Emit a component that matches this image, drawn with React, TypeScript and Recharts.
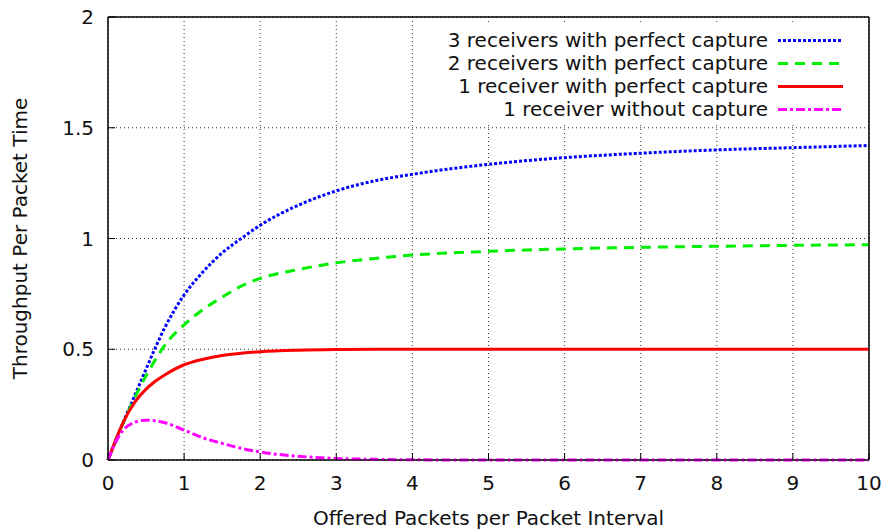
import React from 'react';
import { LineChart, Line, XAxis, YAxis, CartesianGrid, Legend, ReferenceArea } from 'recharts';

const xs = [0, 0.1, 0.2, 0.35, 0.5, 0.6, 0.75, 1, 1.25, 1.5, 1.75, 2, 2.5, 3, 3.5, 4, 5, 6, 7, 8, 9, 10];
const threeRx = [0, 0.085, 0.17, 0.29, 0.41, 0.49, 0.6, 0.745, 0.85, 0.935, 1.0, 1.06, 1.15, 1.215, 1.26, 1.29, 1.335, 1.365, 1.385, 1.4, 1.41, 1.42];
const twoRx = [0, 0.085, 0.167, 0.28, 0.38, 0.44, 0.52, 0.61, 0.68, 0.735, 0.785, 0.82, 0.86, 0.89, 0.91, 0.925, 0.942, 0.953, 0.96, 0.965, 0.969, 0.972];
const oneRx = [0, 0.09, 0.17, 0.26, 0.32, 0.35, 0.385, 0.43, 0.455, 0.472, 0.482, 0.489, 0.496, 0.499, 0.5, 0.5, 0.5, 0.5, 0.5, 0.5, 0.5, 0.5];
const noCapture = [0, 0.08, 0.135, 0.17, 0.18, 0.178, 0.168, 0.135, 0.1, 0.075, 0.053, 0.036, 0.017, 0.007, 0.003, 0.001, 0, 0, 0, 0, 0, 0];

const xTicks = [0, 1, 2, 3, 4, 5, 6, 7, 8, 9, 10];
const yTicks = [0, 0.5, 1, 1.5, 2];

const seriesNames = [
  '3 receivers with perfect capture',
  '2 receivers with perfect capture',
  '1 receiver with perfect capture',
  '1 receiver without capture',
];

const data = xs.map((x, i) => ({
  x,
  s3: threeRx[i],
  s2: twoRx[i],
  s1: oneRx[i],
  s0: noCapture[i],
}));

const FONT = "'DejaVu Sans', sans-serif";
const TEXT = '#111';

const styles = [
  { key: 's3', color: '#0000ff', dash: '3 2' },
  { key: 's2', color: '#00ee00', dash: '10 7' },
  { key: 's1', color: '#ff0000', dash: undefined as string | undefined },
  { key: 's0', color: '#ff00ff', dash: '9 3 3 3' },
];

const renderLegend = () => (
  <div style={{ paddingTop: 3.5, background: '#fff', width: '100%', height: '100%', boxSizing: 'border-box' }}>
    {seriesNames.map((name, i) => (
      <div key={name} style={{ display: 'flex', alignItems: 'center', height: 23 }}>
        <span
          style={{
            width: 328,
            textAlign: 'right',
            fontFamily: FONT,
            fontSize: 20,
            lineHeight: '23px',
            color: TEXT,
            whiteSpace: 'nowrap',
          }}
        >
          {name}
        </span>
        <svg width={75} height={23} style={{ marginLeft: 10 }}>
          <line
            x1={0}
            x2={65}
            y1={11.5}
            y2={11.5}
            stroke={styles[i].color}
            strokeWidth={3}
            strokeDasharray={styles[i].dash}
          />
        </svg>
      </div>
    ))}
  </div>
);

export default function App() {
  const tickStyle = { fill: TEXT, fontSize: 20, fontFamily: FONT };
  return (
    <div style={{ position: 'absolute', left: 0, top: 0 }}>
      <LineChart width={885} height={530} data={data} margin={{ top: 17, right: 16, left: 0, bottom: 0 }}>
        <CartesianGrid xAxisId="main" yAxisId="main" stroke="#333" strokeDasharray="1 3" />
        <XAxis
          xAxisId="main"
          dataKey="x"
          type="number"
          domain={[0, 10]}
          ticks={xTicks}
          tickLine={{ stroke: '#000' }}
          tickSize={-7}
          tickMargin={23}
          height={70}
          axisLine={{ stroke: '#000' }}
          tick={tickStyle}
          label={{ value: 'Offered Packets per Packet Interval', position: 'insideBottom', offset: 5, style: { fill: TEXT, fontSize: 20, fontFamily: FONT } }}
        />
        <XAxis xAxisId="inT" dataKey="x" type="number" orientation="top" domain={[0, 10]} ticks={xTicks} mirror tick={false} tickSize={7} height={1} axisLine={{ stroke: '#000' }} tickLine={{ stroke: '#000' }} />
        <YAxis
          yAxisId="main"
          type="number"
          domain={[0, 2]}
          ticks={yTicks}
          tickLine={{ stroke: '#000' }}
          tickSize={-7}
          tickMargin={21}
          width={108}
          axisLine={{ stroke: '#000' }}
          tick={tickStyle}
          label={{ value: 'Throughput Per Packet Time', angle: -90, position: 'insideLeft', offset: 20, style: { fill: TEXT, fontSize: 20, fontFamily: FONT, textAnchor: 'middle' } }}
        />
        <YAxis yAxisId="inR" type="number" orientation="right" domain={[0, 2]} ticks={yTicks} mirror tick={false} tickSize={7} width={1} axisLine={{ stroke: '#000' }} tickLine={{ stroke: '#000' }} />
        <ReferenceArea xAxisId="main" yAxisId="main" x1={0} x2={10} y1={0} y2={2} fill="none" stroke="#000" strokeWidth={1} ifOverflow="visible" />
        {styles.map((s) => (
          <Line
            key={s.key}
            xAxisId="main"
            yAxisId="main"
            type="monotone"
            dataKey={s.key}
            stroke={s.color}
            strokeWidth={3}
            strokeDasharray={s.dash}
            dot={false}
            activeDot={false}
            isAnimationActive={false}
          />
        ))}
        <Legend
          layout="vertical"
          align="center"
          verticalAlign="middle"
          wrapperStyle={{ top: 25, left: 440, width: 428, height: 97, background: '#fff' }}
          content={renderLegend}
        />
      </LineChart>
    </div>
  );
}
